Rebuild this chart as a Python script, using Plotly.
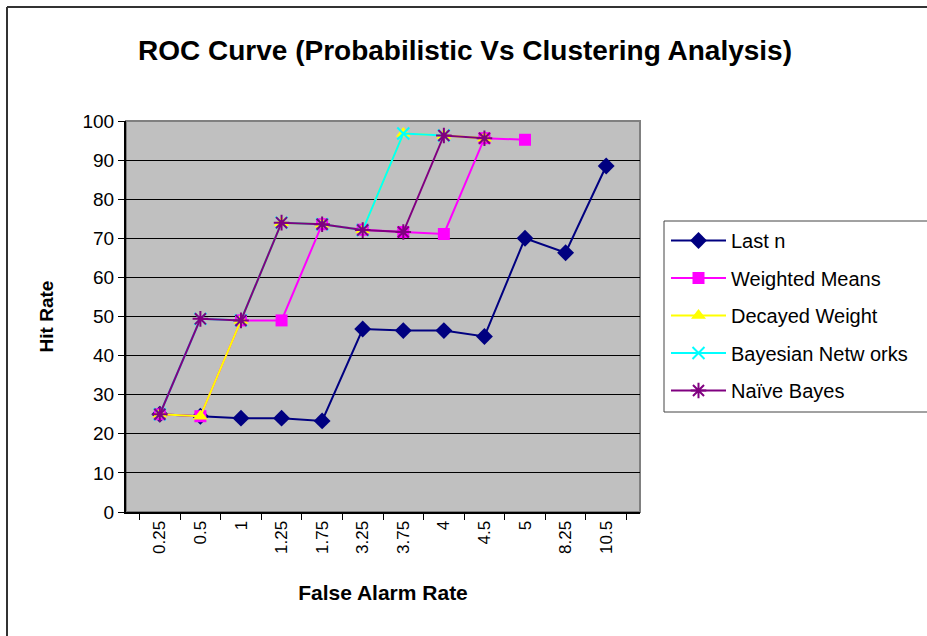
import plotly.graph_objects as go

# ---- data ----
false_alarm = ["0.25", "0.5", "1", "1.25", "1.75", "3.25", "3.75", "4", "4.5", "5", "8.25", "10.5"]
last_n = [25, 24.5, 24, 24, 23.3, 46.8, 46.4, 46.4, 44.9, 70, 66.3, 88.5]
weighted_means = [25, 24.5, 49, 49, 73.6, 72.2, 71.6, 71.1, 95.6, 95.2]
decayed_weight = [25, 24.5, 49, 74, 73.6, 72.1, 96.8, 96.3, 95.6]
bayesian_networks = [25, 49.4, 49, 74, 73.6, 72.1, 96.8, 96.3]
naive_bayes = [25, 49.4, 49, 74, 73.6, 72.1, 71.6, 96.3, 95.6]

series_names = ["Last n", "Weighted Means", "Decayed Weight", "Bayesian Netw orks", "Naïve Bayes"]
series_values = [last_n, weighted_means, decayed_weight, bayesian_networks, naive_bayes]
series_colors = ["#000080", "#FF00FF", "#FFFF00", "#00FFFF", "#800080"]
series_symbols = ["diamond", "square", "triangle-up", "x-thin-open", "asterisk-open"]
series_sizes = [13, 12, 13, 12, 13]

FONT = "Liberation Sans, Arial, sans-serif"

# pixel -> paper helpers (plot area: x 126..640, y 121..512)
def px(x):
    return (x - 126) / 514

def py(y):
    return (512 - y) / 391

fig = go.Figure()
for i, (name, vals, col, sym, sz) in enumerate(zip(series_names, series_values, series_colors,
                                                   series_symbols, series_sizes)):
    fig.add_trace(go.Scatter(
        x=false_alarm[:len(vals)], y=vals, name=name, mode="lines+markers",
        legendgroup=f"g{i}",
        line=dict(color=col, width=2),
        marker=dict(symbol=sym, size=sz, color=col,
                    line=dict(color=col, width=2 if "open" in sym else 0)),
    ))

# outer chart frame (only left and top edges visible)
frame = dict(color="#333333", width=2)
fig.add_shape(type="line", xref="paper", yref="paper", x0=px(7), x1=px(7), y0=py(7), y1=py(640), line=frame)
fig.add_shape(type="line", xref="paper", yref="paper", x0=px(7), x1=px(930), y0=py(7), y1=py(7), line=frame)
# plot-area border (top / right in gray)
fig.add_shape(type="rect", xref="paper", yref="paper", x0=0, x1=1, y0=0, y1=1,
              line=dict(color="#808080", width=2), fillcolor="rgba(0,0,0,0)", layer="below")
# legend frame (extends past right edge)
lf = dict(color="#444444", width=1)
fig.add_shape(type="line", xref="paper", yref="paper", x0=px(664), x1=px(664), y0=py(221), y1=py(412), line=lf)
fig.add_shape(type="line", xref="paper", yref="paper", x0=px(664), x1=px(930), y0=py(221), y1=py(221), line=lf)
fig.add_shape(type="line", xref="paper", yref="paper", x0=px(664), x1=px(930), y0=py(412), y1=py(412), line=lf)

fig.update_layout(
    width=927, height=636,
    margin=dict(l=126, r=287, t=121, b=124),
    paper_bgcolor="white", plot_bgcolor="#C0C0C0",
    font=dict(family=FONT, color="black", size=18),
    title=dict(text="<b>ROC Curve (Probabilistic Vs Clustering Analysis)</b>",
               x=465 / 927, xanchor="center", y=1 - 50 / 636, yanchor="middle",
               font=dict(size=28, family=FONT, color="black")),
    showlegend=True,
    legend=dict(x=px(666), xanchor="left", y=py(221), yanchor="top",
                bgcolor="rgba(0,0,0,0)", borderwidth=0,
                font=dict(size=20, family=FONT, color="black"),
                traceorder="grouped", tracegroupgap=8.5, itemwidth=55),
    xaxis=dict(type="category", categoryorder="array", categoryarray=false_alarm,
               tickson="boundaries", ticks="outside", ticklen=6, tickcolor="black",
               tickangle=-90, showline=True, linecolor="black", linewidth=2,
               showgrid=False, zeroline=False,
               tickfont=dict(size=17, family=FONT),
               title=dict(text="<b>False Alarm Rate</b>", standoff=32,
                          font=dict(size=21, family=FONT))),
    yaxis=dict(range=[0, 100], dtick=10, tick0=0, ticks="outside", ticklen=6,
               tickcolor="black", showline=True, linecolor="black", linewidth=2,
               showgrid=True, gridcolor="black", gridwidth=1, zeroline=False,
               tickfont=dict(size=19, family=FONT),
               title=dict(text="<b>Hit Rate</b>", standoff=24,
                          font=dict(size=19, family=FONT))),
)

fig.write_html("out.html")
